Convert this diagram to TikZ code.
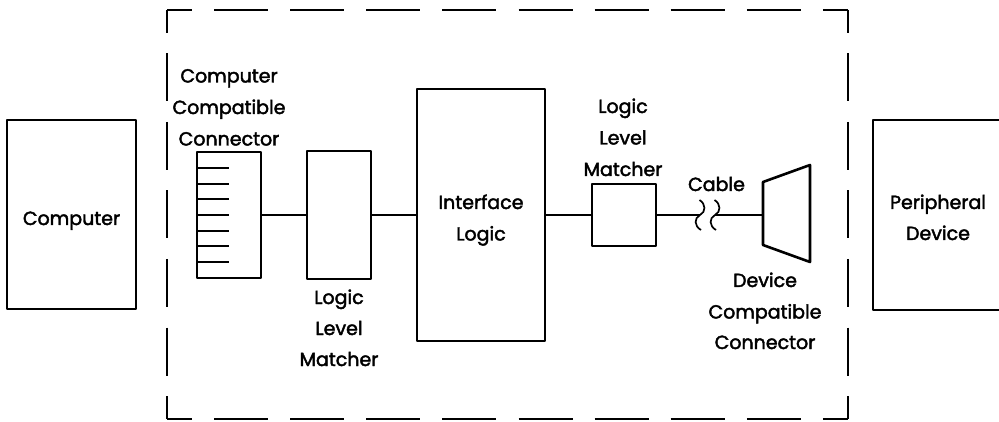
\documentclass[tikz,border=0pt]{standalone}
\usepackage{fontspec}
\setmainfont{Poppins}
\newfontfamily\lblfont{Poppins}[FakeBold=2.2]
\begin{document}
\begin{tikzpicture}[x=1pt,y=-1pt,
  box/.style={draw, line width=2.6pt, inner sep=0pt, line join=round},
  wire/.style={line width=1.5pt},
  tick/.style={line width=1.8pt},
  lbl/.style={anchor=base, font=\lblfont\fontsize{19}{19}\selectfont, inner sep=0pt},
  dashh/.style={line width=1.8pt, dash pattern=on 54pt off 22.1pt, dash phase=29pt},
  dashv/.style={line width=1.8pt, dash pattern=on 48pt off 20.5pt, dash phase=25pt},
  ]
\useasboundingbox (0,0) rectangle (999,422);
\clip (0,0) rectangle (999,422);

% dashed enclosure
\coordinate (tl) at (167,10);
\coordinate (tr) at (848,10);
\coordinate (bl) at (167,419);
\coordinate (br) at (848,419);
\draw[dashh] (tl) -- (tr);
\draw[dashh] (bl) -- (br);
\draw[dashv] (tl) -- (bl);
\draw[dashv] (tr) -- (br);

% boxes
\node[box, minimum width=129pt, minimum height=189pt] (comp) at (71.5,214.5) {};
\node[box, minimum width=130pt, minimum height=190pt] (peri) at (938,215) {};
\node[box, minimum width=64pt, minimum height=126pt] (conn) at (229,215) {};
\node[box, minimum width=64pt, minimum height=128pt] (m1) at (339,215) {};
\node[box, minimum width=128pt, minimum height=252pt] (il) at (481,215) {};
\node[box, minimum width=64pt, minimum height=62pt] (m2) at (624,215) {};

% connector pins
\foreach \y in {168,183.7,199.4,215,230.7,246.4,262}
  \draw[tick] (197,\y) -- (229,\y);

% device connector (trapezoid)
\draw[box] (763,182) -- (810,165) -- (810,262) -- (763,245) -- cycle;
\coordinate (trapL) at (763,215);

% cable break
\coordinate (sq1) at (700,215);
\coordinate (sq2) at (715,215);
\foreach \dx in {0,15}
  \draw[wire, line width=1.7pt] (699.5+\dx,200) .. controls (706+\dx,204) and (706+\dx,212) .. (700+\dx,215)
     .. controls (694+\dx,218) and (694+\dx,226) .. (701+\dx,230);

% wires
\draw[wire] (conn.east) -- (m1.west);
\draw[wire] (m1.east) -- (il.west);
\draw[wire] (il.east) -- (m2.west);
\draw[wire] (m2.east) -- (sq1);
\draw[wire] (sq2) -- (trapL);

% labels
\node[lbl] (tComp) at (71.5,225) {Computer};
\node[lbl] (tCCC1) at (229,82.5) {Computer};
\node[lbl] (tCCC2) at (229,114) {Compatible};
\node[lbl] (tCCC3) at (229,145.5) {Connector};
\node[lbl] (tM1a) at (339,304) {Logic};
\node[lbl] (tM1b) at (339,335) {Level};
\node[lbl] (tM1c) at (339,366) {Matcher};
\node[lbl] (tIL1) at (481,209) {Interface};
\node[lbl] (tIL2) at (481,240.5) {Logic};
\node[lbl] (tM2a) at (623,113) {Logic};
\node[lbl] (tM2b) at (623,144.5) {Level};
\node[lbl] (tM2c) at (623,176) {Matcher};
\node[lbl] (tCab) at (716.5,191) {Cable};
\node[lbl] (tDev1) at (765,287) {Device};
\node[lbl] (tDev2) at (765,318.5) {Compatible};
\node[lbl] (tDev3) at (765,349) {Connector};
\node[lbl] (tPer1) at (938,209) {Peripheral};
\node[lbl] (tPer2) at (938,240) {Device};
\end{tikzpicture}
\end{document}
